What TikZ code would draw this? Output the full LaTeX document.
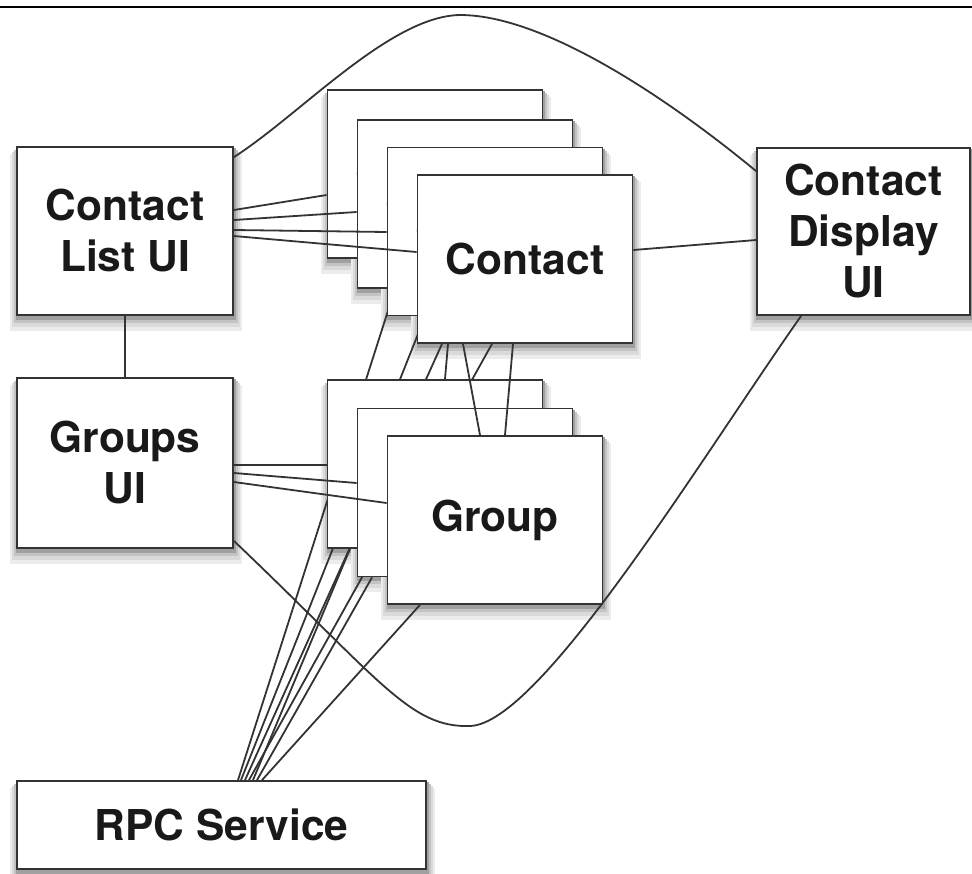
\documentclass[tikz,border=0pt]{standalone}
\usepackage{fontspec}
\setmainfont{TeX Gyre Heros}
\definecolor{shadeA}{RGB}{236,236,236}
\definecolor{shadeB}{RGB}{218,218,218}
\definecolor{shadeC}{RGB}{195,195,195}
\definecolor{shadeD}{RGB}{160,160,160}
\pgfdeclarelayer{back}
\pgfsetlayers{back,main}
\tikzset{
    box/.style={draw=black!80, line width=1.8pt, fill=white, inner sep=0pt,
        align=center, text=black!90, font=\fontsize{42.5}{51}\selectfont\bfseries},
    card/.style={box, minimum width=215pt, minimum height=168pt},
    wire/.style={draw=black!80, line width=1.8pt},
}
% soft shadow under a box
\newcommand{\boxshadow}[1]{%
    \path[fill=shadeA] ([xshift=-6pt,yshift=-8pt]#1.north west) rectangle ([xshift=8pt,yshift=-15pt]#1.south east);
    \path[fill=shadeB] ([xshift=-4pt,yshift=-6pt]#1.north west) rectangle ([xshift=6pt,yshift=-11pt]#1.south east);
    \path[fill=shadeC] ([xshift=-2pt,yshift=-4pt]#1.north west) rectangle ([xshift=4pt,yshift=-7pt]#1.south east);
    \path[fill=shadeD] ([xshift=0pt,yshift=-2pt]#1.north west) rectangle ([xshift=2pt,yshift=-4pt]#1.south east);
}
\begin{document}
\begin{tikzpicture}[x=1pt, y=-1pt]
    \useasboundingbox (0,0) rectangle (972,873);
    \draw[line width=2pt] (0,7) -- (972,7);
    % ui side
    \node[box, minimum width=216pt, minimum height=168pt] (clui) at (125,231) {Contact\\List UI};
    \node[box, minimum width=216pt, minimum height=170pt] (gui) at (125,463) {Groups\\UI};
    \node[box, minimum width=213pt, minimum height=167pt] (cdui) at (863.5,231.5) {Contact\\Display\\UI};
    \node[box, minimum width=409pt, minimum height=88pt] (rpc) at (221.5,825) {RPC Service};
    % stacks
    \node[card] (c1) at (435,174) {Contact};
    \node[card] (c2) at (465,204) {Contact};
    \node[card] (c3) at (495,231.5) {Contact};
    \node[card] (c4) at (525,259) {Contact};
    \node[card] (g1) at (435,464) {};
    \node[card] (g2) at (465,492.5) {};
    \node[card] (g3) at (495,520) {Group};
    % shadows and rpc fan, behind the boxes
    \begin{pgfonlayer}{back}
        \boxshadow{clui}
        \boxshadow{gui}
        \boxshadow{cdui}
        \boxshadow{rpc}
        \boxshadow{c1}
        \boxshadow{c2}
        \boxshadow{c3}
        \boxshadow{c4}
        \boxshadow{g1}
        \boxshadow{g2}
        \boxshadow{g3}
        \draw[wire] ([xshift=-70pt]c2.south) -- ([xshift=16.5pt]rpc.north);
        \draw[wire] ([xshift=-70pt]c3.south) -- ([xshift=19.5pt]rpc.north);
        \draw[wire] ([xshift=-83pt]c4.south) -- ([xshift=23.5pt]rpc.north);
        \draw[wire] ([xshift=-33pt]c4.south) -- ([xshift=27.5pt]rpc.north);
        \draw[wire] ([xshift=-85pt]g1.south) -- ([xshift=31.5pt]rpc.north);
        \draw[wire] ([xshift=-93pt]g2.south) -- ([xshift=35.5pt]rpc.north);
        \draw[wire] ([xshift=-75pt]g3.south) -- ([xshift=40.5pt]rpc.north);
    \end{pgfonlayer}
    \draw[wire] (clui.south) -- (gui.north);
    \draw[wire] ([yshift=21pt]clui.east) -- ([yshift=-21pt]c1.west);
    \draw[wire] ([yshift=11pt]clui.east) -- ([yshift=-8pt]c2.west);
    \draw[wire] ([yshift=1pt]clui.east) -- ([yshift=-0.5pt]c3.west);
    \draw[wire] ([yshift=-5pt]clui.east) -- ([yshift=7pt]c4.west);
    \draw[wire] ([yshift=-2pt]gui.east) -- ([yshift=-1pt]g1.west);
    \draw[wire] ([yshift=-10pt]gui.east) -- ([yshift=9.5pt]g2.west);
    \draw[wire] ([yshift=-19pt]gui.east) -- ([yshift=17pt]g3.west);
    \draw[wire] ([xshift=-77pt]c4.south) -- ([xshift=10pt]g1.north);
    \draw[wire] ([xshift=-62pt]c4.south) -- ([xshift=-15pt]g3.north);
    \draw[wire] ([xshift=-12pt]c4.south) -- ([xshift=10pt]g3.north);
    \draw[wire] ([yshift=9pt]c4.east) -- ([yshift=-8.5pt]cdui.west);
    % long curves
    \draw[wire] ([yshift=-11pt]clui.north east)
        .. controls (300,115) and (390,16) .. (460,15)
        .. controls (545,15) and (670,100) .. ([yshift=-24pt]cdui.north west);
    \draw[wire] ([yshift=8pt]gui.south east)
        .. controls (380,680) and (410,728) .. (470,726)
        .. controls (540,724) and (700,460) .. ([xshift=45pt]cdui.south west);
\end{tikzpicture}
\end{document}
